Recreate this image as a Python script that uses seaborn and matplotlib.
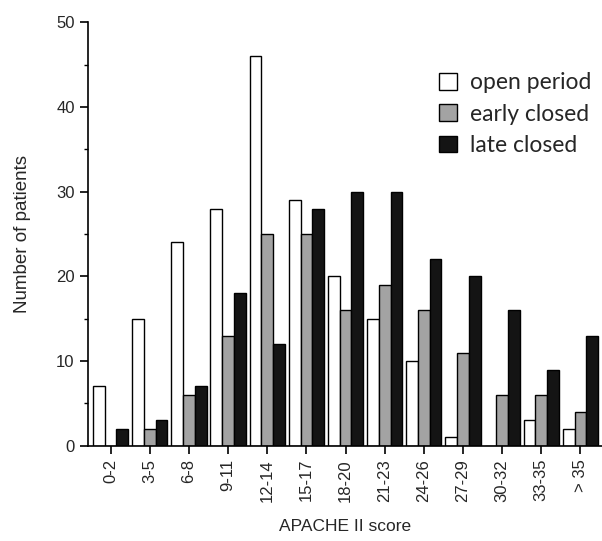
import numpy as np
import pandas as pd
import matplotlib
matplotlib.use("Agg")
import matplotlib.pyplot as plt
import seaborn as sns
from matplotlib.ticker import MultipleLocator

# APACHE II score groups
score_groups = ["0-2", "3-5", "6-8", "9-11", "12-14", "15-17", "18-20",
                "21-23", "24-26", "27-29", "30-32", "33-35", "> 35"]
open_period = [7, 15, 24, 28, 46, 29, 20, 15, 10, 1, 0, 3, 2]
early_closed = [0, 2, 6, 13, 25, 25, 16, 19, 16, 11, 6, 6, 4]
late_closed = [2, 3, 7, 18, 12, 28, 30, 30, 22, 20, 16, 9, 13]
series_names = ["open period", "early closed", "late closed"]

df = pd.DataFrame({
    "score": score_groups * 3,
    "patients": open_period + early_closed + late_closed,
    "period": np.repeat(series_names, len(score_groups)),
})

sns.set_theme(style="ticks")
plt.rcParams['font.family'] = 'sans-serif'
plt.rcParams['font.sans-serif'] = ['Liberation Sans', 'DejaVu Sans']

fig = plt.figure(figsize=(6.02, 5.41), dpi=100)
ax = fig.add_axes([0.146, 0.176, 0.854, 0.783])

palette = {"open period": "#ffffff", "early closed": "#a3a3a3", "late closed": "#141414"}
sns.barplot(data=df, x="score", y="patients", hue="period", order=score_groups,
            hue_order=series_names, palette=palette, width=0.9,
            edgecolor="black", linewidth=1.0, ax=ax, legend=True)

ax.set_ylim(0, 50)
ax.set_xlim(-0.58, 12.55)
ax.yaxis.set_major_locator(MultipleLocator(10))
ax.yaxis.set_minor_locator(MultipleLocator(5))
ax.tick_params(axis="y", which="major", length=6, width=1.2, labelsize=12, color="black")
ax.tick_params(axis="y", which="minor", length=3, width=1.0, color="black")
ax.tick_params(axis="x", length=6, width=1.2, labelsize=12, rotation=90, color="black")
for lab in ax.get_xticklabels():
    lab.set_verticalalignment("top")

for side in ["top", "right"]:
    ax.spines[side].set_visible(False)
for side in ["left", "bottom"]:
    ax.spines[side].set_linewidth(1.2)
    ax.spines[side].set_color("black")

ax.set_xlabel("APACHE II score", fontsize=12.5, labelpad=12)
ax.set_ylabel("Number of patients", fontsize=13.5, labelpad=18)

handles, labels = ax.get_legend_handles_labels()
ax.legend(handles, labels, loc="upper right", bbox_to_anchor=(1.02, 0.93),
          frameon=False, prop={"family": ["Lato", "DejaVu Sans"], "size": 16.5},
          handlelength=0.75, handleheight=0.75, handletextpad=0.6, labelspacing=0.45)

fig.savefig("out.png", dpi=100)
